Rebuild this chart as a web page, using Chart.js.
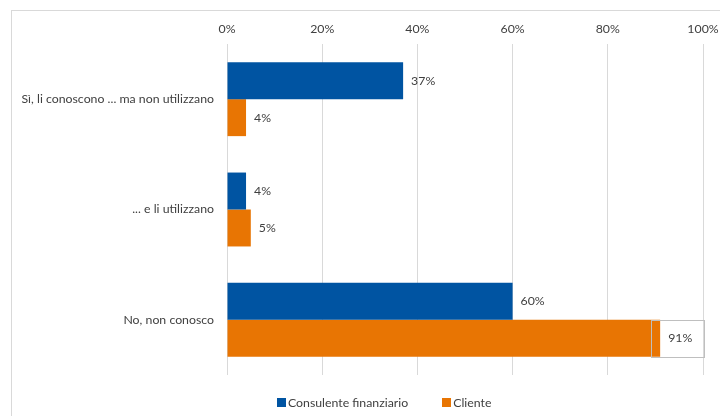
<!DOCTYPE html>
<html>
<head>
<meta charset="utf-8">
<script src="https://cdn.jsdelivr.net/npm/chart.js@4"></script>
<style>
  html, body { margin: 0; padding: 0; background: #fff; }
  #wrap { position: relative; width: 720px; height: 416px; overflow: hidden; }
  #frame { position: absolute; left: 11px; top: 10px; width: 900px; height: 600px; border: 1px solid #d9d9d9; box-sizing: border-box; }
  #chart { position: absolute; left: 0; top: 0; }
  #legend { position: absolute; left: 277px; top: 394px; height: 16px; display: flex; align-items: center;
            font: 12.3px Lato, "Open Sans", sans-serif; color: #404040; white-space: nowrap; }
  .leg-item { display: flex; align-items: center; margin-right: 34px; }
  .leg-box { width: 9px; height: 9px; margin-right: 2px; }
</style>
</head>
<body>
<div id="wrap">
  <div id="frame"></div>
  <canvas id="chart" width="720" height="416"></canvas>
  <div id="legend"></div>
</div>
<script>
// dati
const categorie = ['Sì, li conoscono ... ma non utilizzano', '... e li utilizzano', 'No, non conosco']
const consulente = [37, 4, 60]
const cliente = [4, 5, 91]
const tickLabels = ['0%', '20%', '40%', '60%', '80%', '100%']

const FONT = 'Lato, "Open Sans", sans-serif'
const FSIZE = 12.3

// etichette dei valori alla fine delle barre
const valueLabels = {
  id: 'valueLabels',
  afterDatasetsDraw(chart) {
    const ctx = chart.ctx
    ctx.save()
    ctx.font = FSIZE + 'px ' + FONT
    ctx.fillStyle = '#404040'
    ctx.textBaseline = 'middle'
    chart.data.datasets.forEach((ds, di) => {
      const meta = chart.getDatasetMeta(di)
      meta.data.forEach((bar, i) => {
        const txt = ds.data[i] + '%'
        const x = bar.x + 8
        const y = bar.y
        ctx.fillText(txt, x, y)
        // riquadro attorno all'etichetta del 91%
        if (di === 1 && i === 2) {
          const w = ctx.measureText(txt).width
          ctx.strokeStyle = '#bfbfbf'
          ctx.lineWidth = 1
          ctx.strokeRect(Math.round(x - 17) + 0.5, Math.round(y - bar.height / 2) + 0.5, Math.round(w + 29), Math.round(bar.height))
        }
      })
    })
    ctx.restore()
  }
}

const ctx = document.getElementById('chart').getContext('2d')
const chart = new Chart(ctx, {
  type: 'bar',
  data: {
    labels: categorie,
    datasets: [
      { label: 'Consulente finanziario', data: consulente, backgroundColor: '#0054a2', barPercentage: 1, categoryPercentage: 0.67 },
      { label: 'Cliente', data: cliente, backgroundColor: '#e87503', barPercentage: 1, categoryPercentage: 0.67 }
    ]
  },
  options: {
    indexAxis: 'y',
    responsive: false,
    animation: false,
    layout: { padding: { top: 0, right: 17, bottom: 41, left: 0 } },
    scales: {
      x: {
        position: 'top',
        min: 0,
        max: 100,
        ticks: {
          stepSize: 20,
          padding: 8,
          color: '#404040',
          font: { size: FSIZE, family: FONT },
          callback: (v, i) => tickLabels[i]
        },
        grid: { color: '#d9d9d9', drawTicks: false },
        border: { display: false },
        afterFit: (scale) => {
          scale.height = 44
          scale.paddingLeft = 0
          scale.paddingRight = 0
        }
      },
      y: {
        ticks: { padding: 13, color: '#404040', font: { size: FSIZE, family: FONT } },
        grid: { display: false, drawTicks: false },
        border: { display: false },
        afterFit: (scale) => { scale.width = 227 }
      }
    },
    plugins: {
      legend: { display: false },
      tooltip: { enabled: false }
    }
  },
  plugins: [valueLabels]
})

// legenda in HTML
const legend = document.getElementById('legend')
chart.data.datasets.forEach(ds => {
  const item = document.createElement('div')
  item.className = 'leg-item'
  item.innerHTML = `<span class="leg-box" style="background:${ds.backgroundColor}"></span><span>${ds.label}</span>`
  legend.appendChild(item)
})
</script>
</body>
</html>
